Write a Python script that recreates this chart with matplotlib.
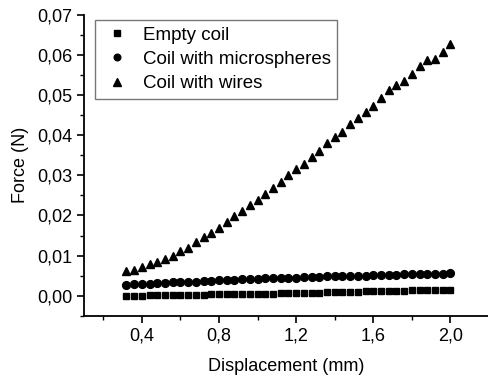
import numpy as np
import matplotlib
matplotlib.use("Agg")
import matplotlib.pyplot as plt
from matplotlib.ticker import MultipleLocator, FuncFormatter

plt.rcParams['font.family'] = ['Liberation Sans', 'DejaVu Sans']

# displacement (mm)
displacement = [0.32, 0.36, 0.40, 0.44, 0.48, 0.52, 0.56, 0.60, 0.64, 0.68,
                0.72, 0.76, 0.80, 0.84, 0.88, 0.92, 0.96, 1.00, 1.04, 1.08,
                1.12, 1.16, 1.20, 1.24, 1.28, 1.32, 1.36, 1.40, 1.44, 1.48,
                1.52, 1.56, 1.60, 1.64, 1.68, 1.72, 1.76, 1.80, 1.84, 1.88,
                1.92, 1.96, 2.00]

empty_coil = [0.0000, 0.0000, 0.0000, 0.0001, 0.0001, 0.0001, 0.0001, 0.0002, 0.0002, 0.0002,
              0.0002, 0.0003, 0.0003, 0.0003, 0.0004, 0.0004, 0.0004, 0.0005, 0.0005, 0.0005,
              0.0006, 0.0006, 0.0006, 0.0007, 0.0007, 0.0007, 0.0008, 0.0008, 0.0009, 0.0010,
              0.0010, 0.0011, 0.0011, 0.0011, 0.0012, 0.0012, 0.0012, 0.0013, 0.0013, 0.0013,
              0.0014, 0.0014, 0.0015]

microspheres = [0.0026, 0.0028, 0.0029, 0.0030, 0.0031, 0.0032, 0.0033, 0.0034, 0.0034, 0.0035,
                0.0036, 0.0037, 0.0038, 0.0039, 0.0040, 0.0041, 0.0041, 0.0042, 0.0043, 0.0043,
                0.0044, 0.0045, 0.0045, 0.0046, 0.0047, 0.0047, 0.0048, 0.0048, 0.0049, 0.0049,
                0.0050, 0.0050, 0.0051, 0.0051, 0.0052, 0.0052, 0.0053, 0.0053, 0.0054, 0.0054,
                0.0055, 0.0055, 0.0056]

wires = [0.0062, 0.0065, 0.0071, 0.0078, 0.0085, 0.0092, 0.0100, 0.0111, 0.0120, 0.0134,
         0.0146, 0.0156, 0.0170, 0.0184, 0.0198, 0.0212, 0.0226, 0.0239, 0.0254, 0.0269,
         0.0284, 0.0301, 0.0316, 0.0329, 0.0345, 0.0361, 0.0381, 0.0396, 0.0409, 0.0428,
         0.0443, 0.0459, 0.0472, 0.0494, 0.0512, 0.0525, 0.0535, 0.0553, 0.0574, 0.0587,
         0.0590, 0.0608, 0.0627]

fig = plt.figure(figsize=(4.89, 3.80), dpi=100)
ax = fig.add_axes([0.1718, 0.1692, 0.8282, 0.7913])

ax.plot(displacement, empty_coil, 's', color='black', ms=4.8, ls='none', label='Empty coil')
ax.plot(displacement, microspheres, 'o', color='black', ms=5.6, ls='none', label='Coil with microspheres')
ax.plot(displacement, wires, '^', color='black', ms=6, ls='none', label='Coil with wires')

ax.set_xlim(0.1, 2.2)
ax.set_ylim(-0.005, 0.07)

for s in ['top', 'right']:
    ax.spines[s].set_visible(False)
for s in ['left', 'bottom']:
    ax.spines[s].set_linewidth(1.3)

ax.xaxis.set_minor_locator(MultipleLocator(0.2))
ax.set_xticks([0.4, 0.8, 1.2, 1.6, 2.0])
ax.yaxis.set_major_locator(MultipleLocator(0.01))
ax.yaxis.set_minor_locator(MultipleLocator(0.005))
ax.xaxis.set_major_formatter(FuncFormatter(lambda v, p: f"{v:.1f}".replace('.', ',')))
ax.yaxis.set_major_formatter(FuncFormatter(lambda v, p: f"{v:.2f}".replace('.', ',')))
ax.tick_params(which='major', direction='out', length=5, width=1.2, labelsize=13)
ax.tick_params(which='minor', direction='out', length=3, width=1.0)

ax.set_xlabel('Displacement (mm)', fontsize=13, labelpad=10)
ax.set_ylabel('Force (N)', fontsize=13, labelpad=6)

leg = ax.legend(loc='upper left', bbox_to_anchor=(0.027, 0.983), borderaxespad=0,
                fontsize=13.5, fancybox=False, frameon=True, edgecolor='#555555',
                handletextpad=0.6, labelspacing=0.38, borderpad=0.35,
                markerscale=0.85, handlelength=1.6)
leg.get_frame().set_linewidth(1.0)

fig.savefig('out.png', dpi=100)
